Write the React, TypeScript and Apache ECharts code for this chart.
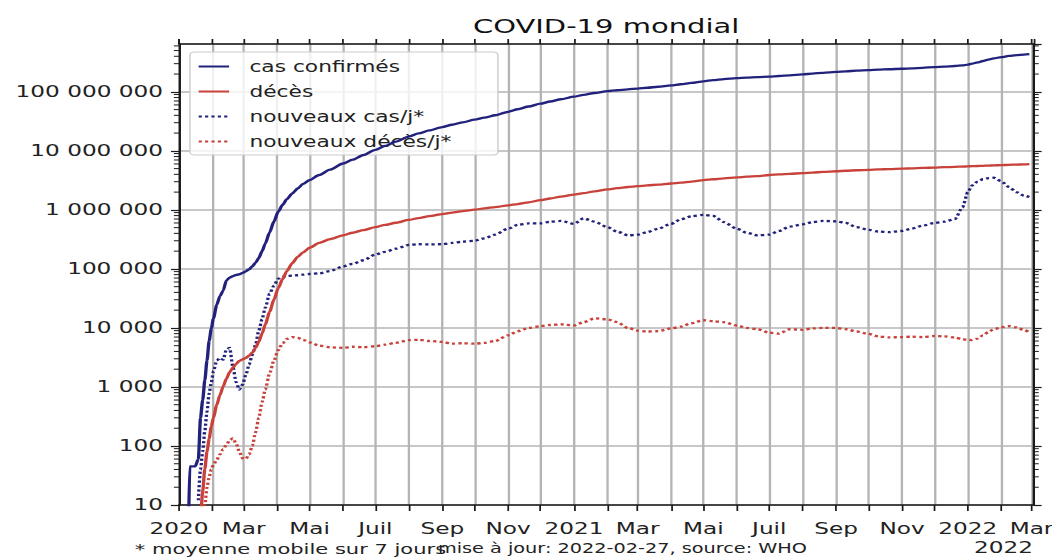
import React, { useEffect, useRef } from "react";
import * as echarts from "echarts";

// ---------- data ----------
const dates = [
  "2020-01-10", "2020-01-11", "2020-01-16", "2020-01-19", "2020-01-21", "2020-01-23", "2020-01-25", "2020-01-27",
  "2020-01-29", "2020-01-31", "2020-02-02", "2020-02-05", "2020-02-08", "2020-02-11", "2020-02-14", "2020-02-17",
  "2020-02-20", "2020-02-23", "2020-02-26", "2020-02-29", "2020-03-03", "2020-03-06", "2020-03-09", "2020-03-12",
  "2020-03-15", "2020-03-18", "2020-03-21", "2020-03-25", "2020-03-29", "2020-04-02", "2020-04-06", "2020-04-10",
  "2020-04-15", "2020-04-20", "2020-04-25", "2020-05-01", "2020-05-10", "2020-05-20", "2020-06-01", "2020-06-10",
  "2020-06-20", "2020-07-01", "2020-07-10", "2020-07-20", "2020-08-01", "2020-08-10", "2020-08-20", "2020-09-01",
  "2020-09-10", "2020-09-20", "2020-10-01", "2020-10-10", "2020-10-20", "2020-11-01", "2020-11-10", "2020-11-20",
  "2020-12-01", "2020-12-10", "2020-12-20", "2021-01-01", "2021-01-10", "2021-01-20", "2021-02-01", "2021-02-10",
  "2021-02-20", "2021-03-01", "2021-03-10", "2021-03-20", "2021-04-01", "2021-04-10", "2021-04-20", "2021-05-01",
  "2021-05-10", "2021-05-20", "2021-06-01", "2021-06-10", "2021-06-20", "2021-07-01", "2021-07-10", "2021-07-20",
  "2021-08-01", "2021-08-10", "2021-08-20", "2021-09-01", "2021-09-10", "2021-09-20", "2021-10-01", "2021-10-10",
  "2021-10-20", "2021-11-01", "2021-11-10", "2021-11-20", "2021-12-01", "2021-12-10", "2021-12-20", "2021-12-27",
  "2022-01-01", "2022-01-05", "2022-01-10", "2022-01-15", "2022-01-20", "2022-01-25", "2022-02-01", "2022-02-08",
  "2022-02-15", "2022-02-22", "2022-02-27",
];

const casConfirmes = [
  5, 45, 45, 60, 300, 600, 1300, 2800,
  6000, 9800, 14500, 24500, 34500, 43000, 64000, 71000,
  75700, 78800, 81100, 85400, 90900, 98100, 110000, 128000,
  153000, 199000, 268000, 414000, 635000, 930000, 1210000, 1520000,
  1900000, 2300000, 2750000, 3200000, 3900000, 4800000, 6100000, 7100000,
  8500000, 10400000, 12100000, 14300000, 17400000, 19700000, 22200000, 25300000,
  27700000, 30400000, 33800000, 36500000, 40100000, 45900000, 50700000, 56400000,
  62900000, 68500000, 74900000, 82600000, 88900000, 95600000, 102400000, 106300000,
  110000000, 113500000, 117300000, 121800000, 128500000, 134300000, 141800000, 150900000,
  157400000, 164500000, 170500000, 173700000, 177100000, 181500000, 185300000, 190700000,
  197800000, 203300000, 209900000, 217600000, 222400000, 228200000, 233500000, 237400000,
  241400000, 246100000, 250200000, 255300000, 262400000, 267200000, 273900000, 280000000,
  290000000, 300000000, 315000000, 333000000, 352000000, 368000000, 388000000, 405000000,
  418000000, 428000000, 434000000,
];

const deces = [
  null, null, 2, 3, 6, 17, 41, 80,
  132, 213, 305, 492, 724, 1018, 1383, 1775,
  2125, 2460, 2770, 2925, 3110, 3400, 3800, 4600,
  5800, 8000, 11400, 18600, 30000, 47000, 67000, 92000,
  125000, 160000, 190000, 228000, 275000, 320000, 370000, 410000,
  455000, 510000, 555000, 605000, 675000, 725000, 785000, 850000,
  900000, 950000, 1010000, 1060000, 1115000, 1190000, 1255000, 1345000,
  1460000, 1560000, 1680000, 1810000, 1920000, 2060000, 2220000, 2330000,
  2440000, 2520000, 2600000, 2680000, 2800000, 2900000, 3020000, 3180000,
  3300000, 3430000, 3550000, 3650000, 3740000, 3900000, 3980000, 4070000,
  4200000, 4290000, 4390000, 4510000, 4600000, 4690000, 4770000, 4840000,
  4910000, 4990000, 5060000, 5130000, 5210000, 5280000, 5360000, 5410000,
  5460000, 5500000, 5540000, 5580000, 5620000, 5670000, 5730000, 5790000,
  5850000, 5900000, 5950000,
];

const nouveauxCas = [
  null, null, null, 12, 40, 80, 180, 380,
  780, 1200, 1850, 2800, 3100, 2900, 4300, 4600,
  2200, 1200, 900, 1100, 1600, 2400, 3500, 5200,
  9000, 14000, 22000, 38000, 52000, 68000, 74000, 76000,
  77000, 78000, 80000, 82000, 84000, 92000, 110000, 122000,
  140000, 175000, 195000, 220000, 255000, 262000, 260000, 262000,
  275000, 290000, 300000, 330000, 380000, 480000, 560000, 590000,
  590000, 630000, 650000, 580000, 720000, 630000, 510000, 430000,
  370000, 380000, 420000, 480000, 580000, 690000, 780000, 820000,
  790000, 620000, 480000, 410000, 370000, 380000, 440000, 520000,
  570000, 620000, 650000, 640000, 600000, 510000, 460000, 430000,
  420000, 440000, 480000, 540000, 600000, 630000, 700000, 1100000,
  2000000, 2600000, 3000000, 3300000, 3450000, 3500000, 3050000, 2450000,
  2000000, 1750000, 1650000,
];

const nouveauxDeces = [
  null, null, null, null, null, 4, 10, 20,
  30, 40, 48, 58, 72, 88, 105, 125,
  135, 110, 80, 62, 60, 72, 100, 170,
  300, 550, 900, 1700, 2800, 4200, 5500, 6500,
  7000, 6800, 6300, 5700, 5000, 4700, 4600, 4800,
  4700, 4900, 5200, 5600, 6200, 6300, 6000, 5800,
  5400, 5500, 5400, 5600, 6000, 7500, 8800, 10000,
  10700, 11200, 11500, 11000, 12500, 14500, 14000, 12500,
  10000, 9000, 8700, 8800, 9800, 10500, 12000, 13500,
  13000, 12500, 11000, 10000, 9500, 8300, 8000, 9500,
  9300, 9800, 10000, 10000, 9500, 8700, 7900, 7200,
  6900, 7000, 7100, 7000, 7300, 7200, 6900, 6400,
  6300, 6200, 6600, 7500, 8500, 9500, 10300, 10700,
  10200, 9200, 8500,
];

const seriesNames = ["cas confirmés", "décès", "nouveaux cas/j*", "nouveaux décès/j*"];
const monthLabels = ["", "", "Mar", "", "Mai", "", "Juil", "", "Sep", "", "Nov", ""];
const yDecades = [10, 100, 1000, 10000, 100000, 1000000, 10000000, 100000000];
const yMinorMultipliers = [2, 3, 4, 5, 6, 7, 8, 9];
const titleText = "COVID-19 mondial";
const footLeft = "* moyenne mobile sur 7 jours";
const footMid = "mise à jour: 2022-02-27, source: WHO";
const footYear = "2022";

// ---------- layout ----------
const S = 1.45; // horizontal stretch of the reference picture
const W = 1052 / S;
const H = 558;
const FONT = "DejaVu Sans";
const NAVY = "#22227c";
const RED = "#c8413a";
const AXIS = "#1a1a1a";
const GRID = "#b4b4b4";

const xMin = new Date(2020, 0, 1).getTime();
const xMax = new Date(2022, 2, 3).getTime();
const yMin = 10;
const yMax = 6.46e8;
const DAY = 86400000;

const gridLeft = 123.4;
const gridRight = W - 712.4;
const gridTop = 44;
const gridBottom = H - 505;

function fmtThousands(v: number): string {
  return Math.round(v).toString().replace(/\B(?=(\d{3})+(?!\d))/g, " ");
}

export default function App() {
  const ref = useRef<HTMLDivElement>(null);

  useEffect(() => {
    document.body.style.margin = "0";
    if (!ref.current) return;
    const chart = echarts.init(ref.current, null, { renderer: "svg" });

    const minorTicks: number[][] = [];
    yDecades.forEach((d) => {
      yMinorMultipliers.forEach((m) => {
        if (d * m < yMax) minorTicks.push([xMin, d * m]);
      });
    });

    const pair = (arr: (number | null)[]) => dates.map((d, i) => [d, arr[i]]);

    const xAxisBase = {
      type: "time" as const,
      min: xMin,
      max: xMax,
      minInterval: 28 * DAY,
      maxInterval: 30 * DAY,
      axisLine: { show: true, lineStyle: { color: AXIS, width: 1.6 } },
    };
    const yAxisBase = {
      type: "log" as const,
      logBase: 10,
      min: yMin,
      max: yMax,
      splitNumber: 8,
      axisLine: { show: true, lineStyle: { color: AXIS, width: 1.6 } },
    };

    const lineSeries = (name: string, arr: (number | null)[], color: string, dotted: boolean, z: number) => ({
      name,
      type: "line",
      data: pair(arr),
      symbol: "circle",
      showSymbol: false,
      smooth: 0.25,
      smoothMonotone: "x",
      lineStyle: dotted ? { color, width: 2.3, type: [2.2, 2.2] } : { color, width: 2.3 },
      itemStyle: { color },
      z,
    });

    const option: any = {
      animation: false,
      backgroundColor: "#ffffff",
      textStyle: { fontFamily: FONT },
      grid: {
        left: gridLeft,
        right: gridRight,
        top: gridTop,
        bottom: gridBottom,
        containLabel: false,
        outerBoundsMode: "none",
      },
      xAxis: [
        {
          ...xAxisBase,
          position: "bottom",
          axisTick: { show: true, length: 6, lineStyle: { color: AXIS, width: 1.2 } },
          axisLabel: {
            show: true,
            margin: 16,
            fontFamily: FONT,
            fontSize: 16,
            color: "#222",
            formatter: (value: number) => {
              const d = new Date(value);
              if (d.getDate() !== 1 || d.getHours() !== 0) return "";
              const m = d.getMonth();
              if (m === 0) return String(d.getFullYear());
              return monthLabels[m];
            },
          },
          splitLine: { show: true, lineStyle: { color: GRID, width: 1.6 } },
        },
        {
          ...xAxisBase,
          position: "top",
          axisTick: { show: true, length: 5, lineStyle: { color: AXIS, width: 1.2 } },
          axisLabel: { show: false },
          splitLine: { show: false },
        },
      ],
      yAxis: [
        {
          ...yAxisBase,
          position: "left",
          axisTick: { show: true, length: 5.5, lineStyle: { color: AXIS, width: 1.2 } },
          axisLabel: {
            show: true,
            margin: 11,
            fontFamily: FONT,
            fontSize: 16,
            color: "#222",
            showMaxLabel: false,
            formatter: (v: number) => fmtThousands(v),
          },
          splitLine: { show: true, lineStyle: { color: GRID, width: 1.6 } },
        },
        {
          ...yAxisBase,
          position: "right",
          axisTick: { show: true, length: 5.5, lineStyle: { color: AXIS, width: 1.2 } },
          axisLabel: { show: false },
          splitLine: { show: false },
        },
      ],
      legend: {
        data: seriesNames,
        orient: "vertical",
        left: 131,
        top: 52,
        padding: [7, 32, 6, 5],
        itemGap: 10,
        itemWidth: 21,
        itemHeight: 14,
        itemStyle: { opacity: 0 },
        backgroundColor: "rgba(255,255,255,0.8)",
        borderColor: "#cccccc",
        borderWidth: 1,
        borderRadius: 3,
        textStyle: { fontFamily: FONT, fontSize: 15, color: "#222", padding: [0, 0, 0, 9] },
      },
      graphic: [
        {
          type: "text",
          x: 418,
          y: 26.5,
          style: {
            text: titleText,
            fontFamily: FONT,
            fontSize: 20,
            fill: "#111",
            align: "center",
            verticalAlign: "middle",
          },
        },
        {
          type: "text",
          x: 93,
          y: 549,
          style: { text: footLeft, fontFamily: FONT, fontSize: 14.5, fill: "#222", align: "left", verticalAlign: "middle" },
        },
        {
          type: "text",
          x: 302,
          y: 549,
          style: { text: footMid, fontFamily: FONT, fontSize: 13.3, fill: "#222", align: "left", verticalAlign: "middle" },
        },
        {
          type: "text",
          x: 712.4,
          y: 548,
          style: { text: footYear, fontFamily: FONT, fontSize: 16, fill: "#222", align: "right", verticalAlign: "middle" },
        },
      ],
      series: [
        lineSeries(seriesNames[0], casConfirmes, NAVY, false, 4),
        lineSeries(seriesNames[1], deces, RED, false, 4),
        lineSeries(seriesNames[2], nouveauxCas, NAVY, true, 3),
        lineSeries(seriesNames[3], nouveauxDeces, RED, true, 3),
        {
          name: "minorTicks",
          type: "custom",
          silent: true,
          clip: false,
          z: 6,
          data: minorTicks,
          renderItem: (params: any, api: any) => {
            const v = api.value(1);
            const l = api.coord([xMin, v]);
            const r = api.coord([xMax, v]);
            return {
              type: "group",
              children: [
                { type: "line", shape: { x1: l[0] - 3.5, y1: l[1], x2: l[0], y2: l[1] }, style: { stroke: AXIS, lineWidth: 1 } },
                { type: "line", shape: { x1: r[0], y1: r[1], x2: r[0] + 3.5, y2: r[1] }, style: { stroke: AXIS, lineWidth: 1 } },
              ],
            };
          },
        },
      ],
    };

    chart.setOption(option);
    return () => chart.dispose();
  }, []);

  return (
    <div
      ref={ref}
      style={{
        width: W + "px",
        height: H + "px",
        transform: `scaleX(${S})`,
        transformOrigin: "0 0",
      }}
    />
  );
}
